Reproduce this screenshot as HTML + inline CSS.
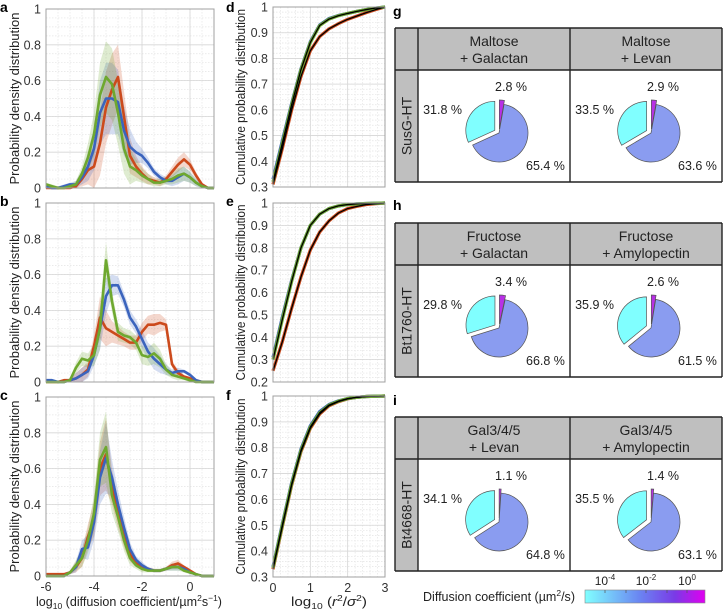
<!DOCTYPE html>
<html><head><meta charset="utf-8"><style>
html,body{margin:0;padding:0;background:#fff;}
svg{display:block;font-family:"Liberation Sans",sans-serif;}
</style></head><body>
<svg id="fig" width="724" height="611" viewBox="0 0 724 611" xmlns="http://www.w3.org/2000/svg">
<defs>
<linearGradient id="cbar" x1="0" x2="1" y1="0" y2="0">
<stop offset="0" stop-color="#80ffff"/><stop offset="0.45" stop-color="#6a86f2"/><stop offset="0.75" stop-color="#7a3ae6"/><stop offset="1" stop-color="#e000f0"/>
</linearGradient>
</defs>
</svg>
<script>
// ---------- PDF data (x = log10 D) ----------
const PDF_X = [-6,-5.75,-5.5,-5.25,-5,-4.75,-4.5,-4.25,-4,-3.75,-3.5,-3.25,-3,-2.75,-2.5,-2.25,-2,-1.75,-1.5,-1.25,-1,-0.75,-0.5,-0.25,0,0.25,0.5,0.75,1];
const A_RED   = [0,0,0,0,0,0.01,0.05,0.1,0.12,0.25,0.45,0.55,0.62,0.4,0.18,0.12,0.08,0.05,0.04,0.03,0.05,0.09,0.13,0.16,0.13,0.07,0.02,0,0];
const A_BLUE  = [0.01,0,0,0.01,0.02,0.02,0.06,0.12,0.22,0.42,0.5,0.5,0.48,0.32,0.23,0.2,0.18,0.14,0.09,0.06,0.04,0.04,0.06,0.08,0.06,0.03,0.01,0,0];
const A_GREEN = [0.02,0.01,0,0,0.01,0.02,0.08,0.17,0.3,0.52,0.62,0.58,0.42,0.22,0.12,0.1,0.07,0.05,0.03,0.03,0.04,0.05,0.07,0.08,0.06,0.03,0.01,0,0];
const A_ERR   = [0.01,0.01,0.01,0.01,0.01,0.02,0.04,0.08,0.12,0.18,0.2,0.2,0.18,0.14,0.1,0.06,0.04,0.03,0.02,0.02,0.02,0.03,0.04,0.04,0.03,0.02,0.01,0,0];
const B_RED   = [0,0,0,0.01,0.01,0.02,0.04,0.07,0.2,0.36,0.3,0.28,0.26,0.24,0.22,0.22,0.28,0.32,0.32,0.33,0.32,0.1,0.05,0.03,0.02,0.01,0,0,0];
const B_BLUE  = [0.01,0.01,0,0,0.01,0.02,0.04,0.06,0.15,0.3,0.48,0.54,0.54,0.46,0.36,0.31,0.24,0.17,0.13,0.1,0.07,0.05,0.06,0.06,0.04,0.01,0,0,0];
const B_GREEN = [0,0,0,0,0.01,0.08,0.13,0.12,0.15,0.3,0.68,0.45,0.28,0.26,0.25,0.22,0.15,0.14,0.16,0.13,0.07,0.04,0.03,0.02,0.01,0,0,0,0];
const B_ERR   = [0,0,0,0,0.01,0.03,0.04,0.04,0.06,0.12,0.1,0.06,0.05,0.04,0.04,0.04,0.05,0.05,0.06,0.05,0.03,0.02,0.02,0.01,0.01,0,0,0,0];
const C_RED   = [0.01,0.01,0.01,0.01,0.02,0.05,0.1,0.22,0.32,0.6,0.68,0.5,0.35,0.22,0.12,0.07,0.05,0.04,0.03,0.03,0.04,0.06,0.07,0.05,0.03,0.01,0,0,0];
const C_BLUE  = [0,0,0,0,0.02,0.05,0.15,0.16,0.3,0.55,0.66,0.55,0.4,0.27,0.15,0.09,0.06,0.04,0.03,0.03,0.04,0.05,0.05,0.04,0.02,0.01,0,0,0];
const C_GREEN = [0,0,0,0,0.02,0.06,0.1,0.2,0.35,0.65,0.72,0.45,0.33,0.2,0.1,0.06,0.04,0.03,0.03,0.03,0.04,0.05,0.05,0.03,0.02,0.01,0,0,0];
const C_ERR   = [0,0,0,0,0.01,0.03,0.05,0.07,0.1,0.15,0.2,0.1,0.08,0.06,0.04,0.02,0.02,0.01,0.01,0.01,0.01,0.02,0.02,0.01,0.01,0,0,0,0];
const PDF_YTICKS = [0,0.2,0.4,0.6,0.8,1];
const PDF_YTICK_LABELS = ["0","0.2","0.4","0.6","0.8","1"];
const PDF_XTICKS = [-6,-4,-2,0];
const PDF_XTICK_LABELS = ["-6","-4","-2","0"];

// ---------- CDF data (x = log10 r^2/sigma^2) ----------
const CDF_X = [0,0.25,0.5,0.75,1,1.25,1.5,1.75,2,2.25,2.5,2.75,3];
const D_RED   = [0.31,0.45,0.6,0.73,0.83,0.885,0.915,0.935,0.952,0.965,0.978,0.99,1];
const D_BLUE  = [0.33,0.48,0.625,0.76,0.865,0.93,0.955,0.967,0.975,0.983,0.99,0.996,1];
const D_GREEN = [0.32,0.47,0.62,0.757,0.862,0.928,0.953,0.966,0.975,0.983,0.99,0.996,1];
const E_RED   = [0.25,0.38,0.53,0.67,0.79,0.87,0.92,0.955,0.975,0.985,0.993,0.997,1];
const E_BLUE  = [0.31,0.49,0.655,0.8,0.9,0.95,0.975,0.987,0.993,0.996,0.998,0.999,1];
const E_GREEN = [0.3,0.48,0.65,0.8,0.9,0.95,0.975,0.987,0.993,0.996,0.998,0.999,1];
const F_RED   = [0.33,0.495,0.655,0.785,0.875,0.93,0.962,0.978,0.989,0.995,0.998,0.999,1];
const F_BLUE  = [0.34,0.505,0.665,0.795,0.885,0.94,0.967,0.981,0.99,0.995,0.998,0.999,1];
const F_GREEN = [0.335,0.5,0.66,0.79,0.88,0.935,0.965,0.98,0.99,0.995,0.998,0.999,1];
const CDF_XTICKS = [0,1,2,3];
const CDF_XTICK_LABELS = ["0","1","2","3"];

// ---------- Pie data ----------
const PIE_FAST = [2.8,2.9,3.4,2.6,1.1,1.4];
const PIE_MID  = [65.4,63.6,66.8,61.5,64.8,63.1];
const PIE_SLOW = [31.8,33.5,29.8,35.9,34.1,35.5];
const COL_HEADERS = [["Maltose","+ Galactan"],["Maltose","+ Levan"],["Fructose","+ Galactan"],["Fructose","+ Amylopectin"],["Gal3/4/5","+ Levan"],["Gal3/4/5","+ Amylopectin"]];
const ROW_LABELS = ["SusG-HT","Bt1760-HT","Bt4668-HT"];

const NS="http://www.w3.org/2000/svg";
const svg=document.getElementById('fig');
function mk(tag,attrs,parent){const e=document.createElementNS(NS,tag);for(const k in attrs)e.setAttribute(k,attrs[k]);(parent||svg).appendChild(e);return e;}
function txt(s,attrs,parent){const e=mk('text',attrs,parent);e.textContent=s;return e;}
const RED="#cc4a1c",BLUE="#3b64bd",GREEN="#6ea82f";

function panelLetter(s,x,y){
  const t=txt(s,{x:x,y:y,'font-size':14,'font-weight':'bold',fill:'#000'});
  
  
}

// ---------- PDF panels ----------
function pdfPanel(name,top,red,blue,green,err,showX){
  const g=mk('g',{});
  
  
  const L=46,R=214,H=179,B=top+H;
  const sx=v=>L+(v+6)*24, sy=v=>B-v*H;
  for(let v=-6;v<=1.001;v+=0.5){const gl=mk('line',{x1:sx(v),x2:sx(v),y1:top,y2:B,stroke:'#e4e4e4','stroke-width':0.7,'stroke-dasharray':'1.5,1.5'},g);}
  for(let v=0;v<=1.001;v+=0.05){const gl=mk('line',{x1:L,x2:R,y1:sy(v),y2:sy(v),stroke:'#e4e4e4','stroke-width':0.7,'stroke-dasharray':'1.5,1.5'},g);}
  PDF_XTICKS.forEach(v=>{const gl=mk('line',{x1:sx(v),x2:sx(v),y1:top,y2:B,stroke:'#d6d6d6','stroke-width':0.8},g);});
  PDF_YTICKS.forEach(v=>{const gl=mk('line',{x1:L,x2:R,y1:sy(v),y2:sy(v),stroke:'#d6d6d6','stroke-width':0.8},g);});
  const series=[[red,RED,'red'],[blue,BLUE,'blue'],[green,GREEN,'green']];
  series.forEach(([d,c,n])=>{
    let up=PDF_X.map((x,i)=>sx(x)+','+sy(Math.min(1,d[i]+err[i]))).join(' ');
    let dn=PDF_X.map((x,i)=>sx(x)+','+sy(Math.max(0,d[i]-err[i]))).reverse().join(' ');
    const p=mk('polygon',{points:up+' '+dn,fill:c,'fill-opacity':0.22,stroke:'none'},g);
    
    
  });
  series.forEach(([d,c,n])=>{
    const p=mk('polyline',{points:PDF_X.map((x,i)=>sx(x)+','+sy(d[i])).join(' '),fill:'none',stroke:c,'stroke-width':2.6,'stroke-linejoin':'round'},g);
    
    
  });
  const box=mk('rect',{x:L,y:top,width:R-L,height:H,fill:'none',stroke:'#a0a0a0','stroke-width':1},g);
  
  
  PDF_YTICKS.forEach((v,i)=>{
    const t=txt(PDF_YTICK_LABELS[i],{x:L-5,y:sy(v)+4.5,'font-size':12.5,fill:'#333','text-anchor':'end'},g);
    
    
  });
  if(showX){PDF_XTICKS.forEach((v,i)=>{
    const t=txt(PDF_XTICK_LABELS[i],{x:sx(v),y:B+15,'font-size':12.5,fill:'#333','text-anchor':'middle'},g);
    
    
  });}
  const yt=txt('Probability density distribution',{x:0,y:0,'font-size':12.5,fill:'#222','text-anchor':'middle',textLength:172,lengthAdjust:'spacingAndGlyphs',transform:`translate(19,${top+H/2}) rotate(-90)`},g);
  
  
}
pdfPanel('a',9,A_RED,A_BLUE,A_GREEN,A_ERR,false);
pdfPanel('b',203,B_RED,B_BLUE,B_GREEN,B_ERR,false);
pdfPanel('c',397,C_RED,C_BLUE,C_GREEN,C_ERR,true);
panelLetter('a',0,12);panelLetter('b',0,206);panelLetter('c',0,400);
{const t=txt('',{x:36,y:606,'font-size':12.5,fill:'#222',textLength:186,lengthAdjust:'spacingAndGlyphs'});


t.innerHTML='log<tspan font-size="8.5" dy="3">10</tspan><tspan dy="-3"> (diffusion coefficient/µm</tspan><tspan font-size="8.5" dy="-5">2</tspan><tspan dy="5">s</tspan><tspan font-size="8.5" dy="-5">−1</tspan><tspan dy="5">)</tspan>';}

// ---------- CDF panels ----------
function cdfPanel(name,top,B,lo,red,blue,green,showX){
  const g=mk('g',{});
  
  
  const L=273,R=385,H=B-top;
  const sx=v=>L+v*(R-L)/3, sy=v=>B-(v-lo)/(1-lo)*H;
  for(let v=0;v<=3.001;v+=0.2){const gl=mk('line',{x1:sx(v),x2:sx(v),y1:top,y2:B,stroke:'#e4e4e4','stroke-width':0.7,'stroke-dasharray':'1.5,1.5'},g);}
  for(let v=lo;v<=1.001;v+=0.02){const gl=mk('line',{x1:L,x2:R,y1:sy(v),y2:sy(v),stroke:'#e4e4e4','stroke-width':0.7,'stroke-dasharray':'1.5,1.5'},g);}
  CDF_XTICKS.forEach(v=>{const gl=mk('line',{x1:sx(v),x2:sx(v),y1:top,y2:B,stroke:'#d6d6d6','stroke-width':0.8},g);});
  const yt=[];for(let v=Math.round(lo*10);v<=10;v++)yt.push(v/10);
  yt.forEach(v=>{const gl=mk('line',{x1:L,x2:R,y1:sy(v),y2:sy(v),stroke:'#d6d6d6','stroke-width':0.8},g);});
  [[red,RED,'red'],[blue,BLUE,'blue'],[green,GREEN,'green']].forEach(([d,c,n])=>{
    const p=mk('polyline',{points:CDF_X.map((x,i)=>sx(x)+','+sy(d[i])).join(' '),fill:'none',stroke:c,'stroke-width':3.2,'stroke-linejoin':'round'},g);
    
    
  });
  [[red,'red'],[green,'green']].forEach(([d,n])=>{
    const p=mk('polyline',{points:CDF_X.map((x,i)=>sx(x)+','+sy(d[i])).join(' '),fill:'none',stroke:'#000','stroke-width':1.3,'stroke-linejoin':'round'},g);
    
    
  });
  const box=mk('rect',{x:L,y:top,width:R-L,height:H,fill:'none',stroke:'#a0a0a0','stroke-width':1},g);
  
  
  yt.forEach(v=>{
    const t=txt(v===1?'1':v.toFixed(1),{x:L-5,y:sy(v)+4.5,'font-size':12.5,fill:'#333','text-anchor':'end'},g);
    
    
  });
  if(showX){CDF_XTICKS.forEach((v,i)=>{
    const t=txt(CDF_XTICK_LABELS[i],{x:sx(v),y:B+15,'font-size':12.5,fill:'#333','text-anchor':'middle'},g);
    
    
  });}
  const yl=txt('Cumulative probability distribution',{x:0,y:0,'font-size':12.5,fill:'#222','text-anchor':'middle',textLength:176,lengthAdjust:'spacingAndGlyphs',transform:`translate(245,${top+H/2}) rotate(-90)`},g);
  
  
}
cdfPanel('d',7,187,0.3,D_RED,D_BLUE,D_GREEN,false);
cdfPanel('e',203,382,0.2,E_RED,E_BLUE,E_GREEN,false);
cdfPanel('f',396,577,0.3,F_RED,F_BLUE,F_GREEN,true);
panelLetter('d',226,12);panelLetter('e',226,206);panelLetter('f',226,400);
{const t=txt('',{x:291,y:606,'font-size':12.5,fill:'#222',textLength:76,lengthAdjust:'spacingAndGlyphs'});


t.innerHTML='log<tspan font-size="8.5" dy="3">10</tspan><tspan dy="-3"> (</tspan><tspan font-style="italic">r</tspan><tspan font-size="8.5" dy="-5">2</tspan><tspan dy="5">/</tspan><tspan font-style="italic">σ</tspan><tspan font-size="8.5" dy="-5">2</tspan><tspan dy="5">)</tspan>';}

// ---------- Tables with pies ----------
function piePath(cx,cy,r,a0,a1){
  const p=a=>[cx+r*Math.sin(a*Math.PI/180),cy-r*Math.cos(a*Math.PI/180)];
  const [x0,y0]=p(a0),[x1,y1]=p(a1);
  return `M${cx},${cy} L${x0},${y0} A${r},${r} 0 ${(a1-a0)>180?1:0} 1 ${x1},${y1} Z`;
}
function table(row,top,letter){
  const g=mk('g',{});
  
  
  const L=395,RH=418,MID=570,R=722,HB=top+42,B=top+154;
  const hd=mk('rect',{x:L,y:top,width:R-L,height:42,fill:'#bfbfbf'},g);
  
  
  const rh=mk('rect',{x:L,y:HB,width:RH-L,height:B-HB,fill:'#bfbfbf'},g);
  
  
  [[L,top,R,top],[L,B,R,B],[L,top,L,B],[R,top,R,B],[RH,top,RH,B],[MID,top,MID,B],[L,HB,R,HB]].forEach(a=>{
    const ln=mk('line',{x1:a[0],y1:a[1],x2:a[2],y2:a[3],stroke:'#222','stroke-width':1.4},g);
    
    
  });
  const rl=txt(ROW_LABELS[row],{x:0,y:0,'font-size':14,fill:'#222','text-anchor':'middle',transform:`translate(${(L+RH)/2+5},${(HB+B)/2}) rotate(-90)`},g);
  
  
  for(let c=0;c<2;c++){
    const k=row*2+c;
    const cx0=c===0?(RH+MID)/2:(MID+R)/2;
    const h=COL_HEADERS[k];
    const t1=txt(h[0],{x:cx0,y:top+18,'font-size':14,fill:'#222','text-anchor':'middle'},g);
    
    
    const t2=txt(h[1],{x:cx0,y:top+35,'font-size':14,fill:'#222','text-anchor':'middle'},g);
    
    
    const pcx=cx0+5,pcy=top+105,r=29;
    const tot=PIE_FAST[k]+PIE_MID[k]+PIE_SLOW[k];
    const aF=PIE_FAST[k]/tot*360,aM=PIE_MID[k]/tot*360;
    const slices=[[0,aF,'#b830e6','fast',4],[aF,aF+aM,'#8a9cf0','medium',0],[aF+aM,360,'#80ffff','slow',5]];
    slices.forEach(([a0,a1,col,n,ex])=>{
      const mid=(a0+a1)/2*Math.PI/180;
      const dx=ex*Math.sin(mid),dy=-ex*Math.cos(mid);
      const p=mk('path',{d:piePath(pcx+dx,pcy+dy,r,a0,a1),fill:col,stroke:'#555','stroke-width':0.7},g);
      
      
    });
    const lf=txt(PIE_FAST[k].toFixed(1)+' %',{x:pcx+12,y:pcy-42,'font-size':12.5,fill:'#222','text-anchor':'middle'},g);
    
    
    const ls=txt(PIE_SLOW[k].toFixed(1)+' %',{x:pcx-37,y:pcy-19,'font-size':12.5,fill:'#222','text-anchor':'end'},g);
    
    
    const lm=txt(PIE_MID[k].toFixed(1)+' %',{x:pcx+27,y:pcy+37,'font-size':12.5,fill:'#222','text-anchor':'start'},g);
    
    
  }
}
table(0,28,'g');table(1,223,'h');table(2,417,'i');
panelLetter('g',393,16);panelLetter('h',393,210);panelLetter('i',393,405);

// ---------- Colorbar ----------
{
  const g=mk('g',{});
  
  
  const r=mk('rect',{x:585,y:590,width:120,height:13,fill:'url(#cbar)',stroke:'#888','stroke-width':0.6},g);
  
  
  [605,626,646,667,687].forEach(x=>{const tk=mk('line',{x1:x,x2:x,y1:590,y2:593,stroke:'#555','stroke-width':0.7},g);});
  [['-4',605],['-2',646],['0',687]].forEach(([e,x])=>{
    const t=txt('',{x:x,y:585,'font-size':12,fill:'#222','text-anchor':'middle'},g);
    
    
    t.innerHTML='10<tspan font-size="8" dy="-5">'+e+'</tspan>';
  });
  const lt=txt('',{x:423,y:601,'font-size':12.5,fill:'#222',textLength:152,lengthAdjust:'spacingAndGlyphs'},g);
  
  
  lt.innerHTML='Diffusion coefficient (µm<tspan font-size="8.5" dy="-5">2</tspan><tspan dy="5">/s)</tspan>';
}
</script>
</body></html>
